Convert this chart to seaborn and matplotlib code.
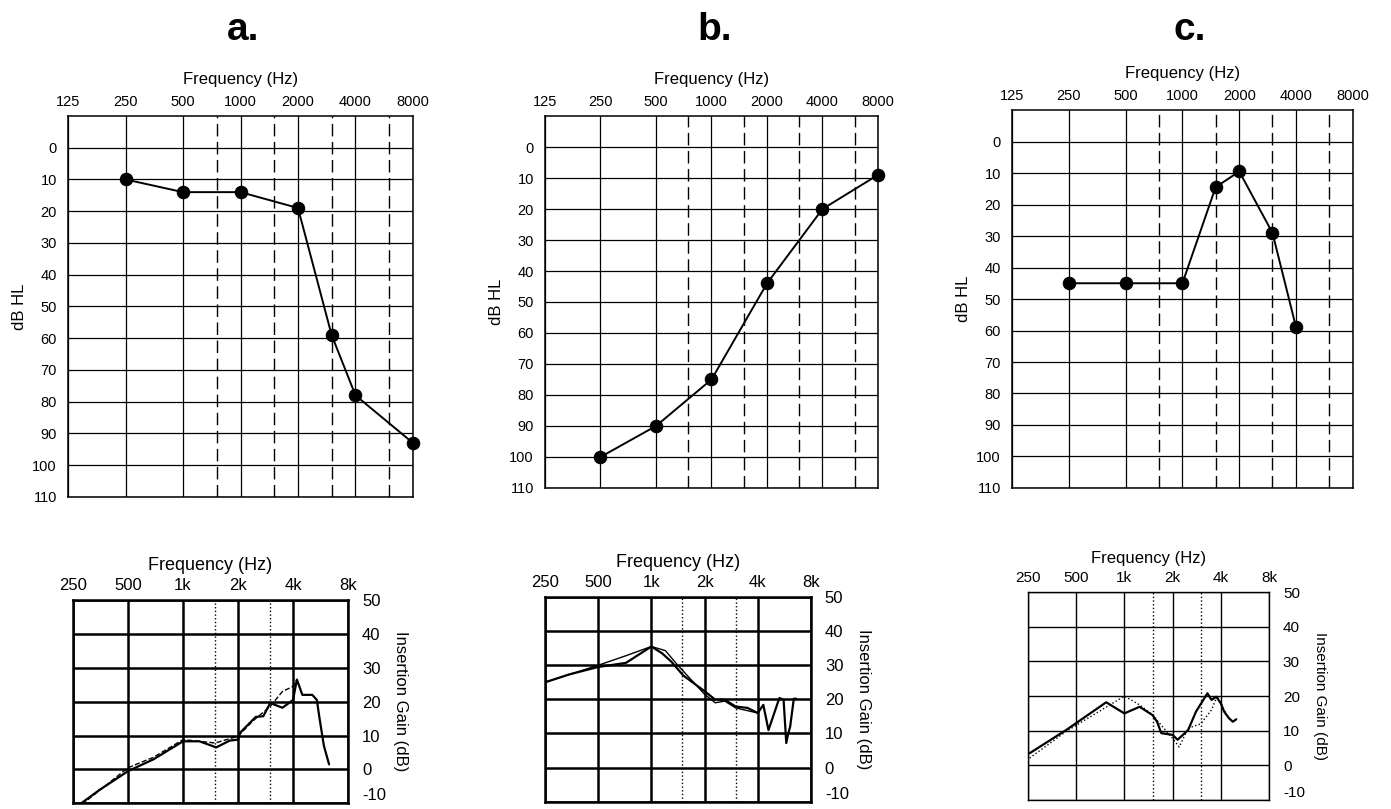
import numpy as np
import pandas as pd
import matplotlib
matplotlib.use("Agg")
import matplotlib.pyplot as plt
import seaborn as sns

sns.set_theme(style="white")
plt.rcParams['font.family'] = ['Liberation Sans', 'DejaVu Sans']
plt.rcParams['axes.unicode_minus'] = False
for key in ['text.color', 'axes.labelcolor', 'xtick.color', 'ytick.color']:
    plt.rcParams[key] = 'black'

# audiogram data (dB HL)
freq_a = [250, 500, 1000, 2000, 3000, 4000, 8000]
hl_a = [10, 14, 14, 19, 59, 78, 93]
freq_b = [250, 500, 1000, 2000, 4000, 8000]
hl_b = [100, 90, 75, 44, 20, 9]
freq_c = [250, 500, 1000, 1500, 2000, 3000, 4000]
hl_c = [45, 45, 45, 14.5, 9.5, 29, 59]

# insertion gain curves: measured (solid) and target (thin)
meas_a_f = [277, 350, 500, 690, 1000, 1230, 1520, 1800, 2000, 2050, 2500, 2750,
            3000, 3500, 4000, 4200, 4500, 5100, 5400, 5600, 5900, 6300]
meas_a_g = [-10, -6, -0.5, 3, 8.3, 8.3, 6.5, 8.5, 8.8, 10.8, 15.5, 15.7,
            19.6, 18.2, 20.5, 26.5, 22, 22, 20.5, 14.7, 7, 1.5]
targ_a_f = [280, 500, 690, 1000, 1500, 2000, 2400, 3000, 3500, 4000, 4200]
targ_a_g = [-10.3, 0.5, 3.6, 8.8, 7.8, 9.8, 14.2, 18.6, 23, 24.5, 26.5]

meas_b_f = [250, 342, 500, 718, 1000, 1150, 1300, 1516, 2000, 2300, 2600, 3000,
            3500, 4000, 4300, 4600, 5300, 5600, 5800, 5950, 6100, 6400, 6600]
meas_b_g = [25, 27.3, 29.5, 30.7, 35.5, 33.5, 31, 27, 22.4, 19.9, 19.9, 17.9,
            17.5, 16, 18.4, 11, 20.4, 19.9, 7.2, 10, 12, 20.2, 20.2]
targ_b_f = [250, 500, 700, 1000, 1200, 1400, 2000, 2300, 2600, 3000, 4000]
targ_b_g = [25, 30, 32.6, 35.5, 34.3, 30.2, 21.5, 19, 19.5, 17.5, 16]

meas_c_f = [256, 433, 770, 1000, 1245, 1500, 1600, 1700, 2000, 2150, 2500, 2800,
            3300, 3500, 3750, 4000, 4200, 4500, 4750, 5000]
meas_c_g = [3.5, 10.2, 18.2, 15, 16.9, 14.5, 12.6, 9.3, 8.8, 7.4, 10.2, 15.5,
            20.8, 18.9, 19.8, 17.9, 15.5, 13.6, 12.6, 13.3]
targ_c_f = [256, 433, 1000, 1250, 1500, 2000, 2200, 2500, 3000, 3500, 3800, 4000, 4300]
targ_c_g = [2.1, 9.8, 20, 17.4, 14.5, 7.8, 5.3, 10.7, 12, 16, 20, 18, 15]

top_ticks = [125, 250, 500, 1000, 2000, 4000, 8000]
top_labels = ['125', '250', '500', '1000', '2000', '4000', '8000']
bot_ticks = [250, 500, 1000, 2000, 4000, 8000]
bot_labels = ['250', '500', '1k', '2k', '4k', '8k']


def audiogram(ax, freqs, levels):
    ax.set_xscale('log', base=2)
    ax.set_xlim(125, 8000)
    ax.set_ylim(110, -10)
    ax.set_xticks(top_ticks)
    ax.set_xticklabels(top_labels)
    ax.set_yticks(range(0, 111, 10))
    ax.minorticks_off()
    ax.xaxis.tick_top()
    ax.xaxis.set_label_position('top')
    ax.tick_params(length=0, labelsize=10.5, pad=5)
    ax.tick_params(axis='y', pad=8)
    ax.grid(True, color='black', lw=0.9)
    for f in [750, 1500, 3000, 6000]:
        ax.axvline(f, color='black', lw=1, dashes=(9, 4))
    for s in ax.spines.values():
        s.set_color('black')
        s.set_linewidth(1.1)
    df = pd.DataFrame({'freq': freqs, 'level': levels})
    sns.lineplot(data=df, x='freq', y='level', ax=ax, color='black', lw=1.4,
                 marker='o', markersize=9, markeredgecolor='black',
                 estimator=None, sort=False, clip_on=False, zorder=5)
    ax.set_xlabel('Frequency (Hz)', fontsize=12, labelpad=8)
    ax.set_ylabel('dB HL', fontsize=12, labelpad=4)


def gain_plot(ax, mf, mg, tf, tg, lw_grid, tstyle, fs):
    ax.set_xscale('log', base=2)
    ax.set_xlim(250, 8000)
    ax.set_ylim(-10, 50)
    ax.set_xticks(bot_ticks)
    ax.set_xticklabels(bot_labels)
    ax.set_yticks(range(-10, 51, 10))
    ax.minorticks_off()
    ax.xaxis.tick_top()
    ax.xaxis.set_label_position('top')
    ax.yaxis.tick_right()
    ax.yaxis.set_label_position('right')
    ax.tick_params(length=0, labelsize=fs, pad=5)
    ax.tick_params(axis='y', pad=10)
    ax.grid(True, color='black', lw=lw_grid)
    for f in [1500, 3000]:
        ax.axvline(f, color='black', lw=1, ls=':')
    for s in ax.spines.values():
        s.set_color('black')
        s.set_linewidth(lw_grid)
    dm = pd.DataFrame({'freq': mf, 'gain': mg})
    dt = pd.DataFrame({'freq': tf, 'gain': tg})
    sns.lineplot(data=dt, x='freq', y='gain', ax=ax, color='black', lw=1.0,
                 ls=tstyle, estimator=None, sort=False, zorder=4)
    sns.lineplot(data=dm, x='freq', y='gain', ax=ax, color='black', lw=1.6,
                 estimator=None, sort=False, zorder=5)
    ax.set_xlabel('Frequency (Hz)', fontsize=fs + 1, labelpad=6)
    ax.set_ylabel('Insertion Gain (dB)', fontsize=fs, rotation=270, labelpad=16)
    # lowest label sits at the page edge; lift it so it stays whole
    ax.get_yticklabels()[0].set_va('bottom')


fig = plt.figure(figsize=(13.91, 8.09), dpi=100)

ax_a = fig.add_axes([0.0489, 0.3857, 0.248, 0.471])
ax_b = fig.add_axes([0.3918, 0.3968, 0.2394, 0.4598])
ax_c = fig.add_axes([0.7275, 0.3968, 0.2451, 0.4672])
audiogram(ax_a, freq_a, hl_a)
audiogram(ax_b, freq_b, hl_b)
audiogram(ax_c, freq_c, hl_c)

gx_a = fig.add_axes([0.0525, 0.007, 0.1977, 0.2514])
gx_b = fig.add_axes([0.3918, 0.009, 0.1912, 0.253])
gx_c = fig.add_axes([0.739, 0.0111, 0.1733, 0.257])
gain_plot(gx_a, meas_a_f, meas_a_g, targ_a_f, targ_a_g, 1.8, '--', 12)
gain_plot(gx_b, meas_b_f, meas_b_g, targ_b_f, targ_b_g, 1.8, '-', 12)
gain_plot(gx_c, meas_c_f, meas_c_g, targ_c_f, targ_c_g, 1.0, ':', 11)

for lbl, x in [('a.', 243 / 1391), ('b.', 715 / 1391), ('c.', 1190 / 1391)]:
    fig.text(x, 1 - 30 / 809, lbl, fontsize=28, fontweight='bold',
             ha='center', va='center')

fig.savefig('out.png', dpi=100)
